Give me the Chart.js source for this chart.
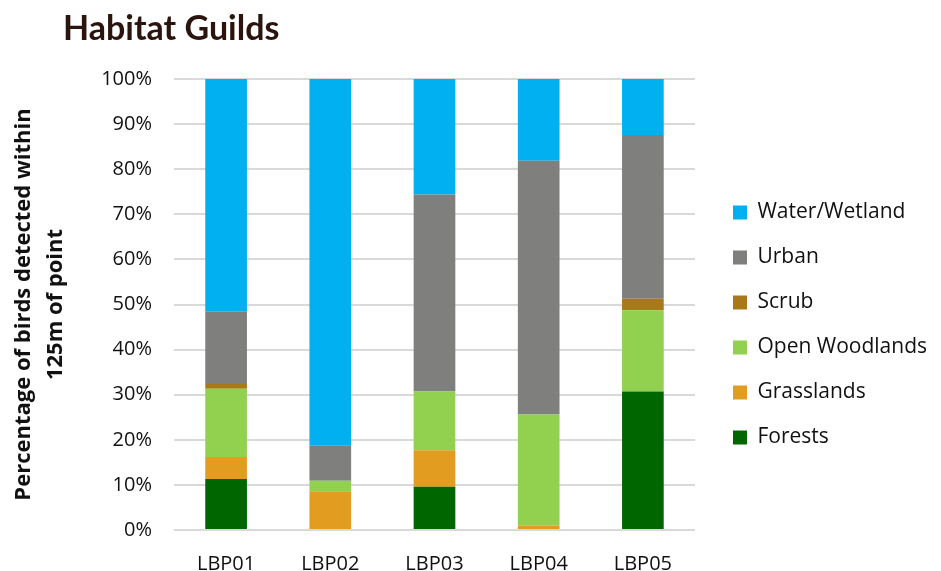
<!DOCTYPE html>
<html>
<head>
<meta charset="utf-8">
<script src="https://cdn.jsdelivr.net/npm/chart.js@4/dist/chart.umd.min.js"></script>
<style>
  html, body { margin: 0; padding: 0; background: #ffffff; }
  #wrap { position: relative; width: 941px; height: 571px; }
  #title { position: absolute; left: 63px; top: 7px; margin: 0; font: bold 34px/40px Lato, sans-serif; color: #2b140d; white-space: nowrap; }
  canvas { position: absolute; left: 0; top: 0; }
</style>
</head>
<body>
<div id="wrap">
  <canvas id="c" width="941" height="571"></canvas>
  <h1 id="title">Habitat Guilds</h1>
</div>
<script>
const categories = ['LBP01', 'LBP02', 'LBP03', 'LBP04', 'LBP05'];
const forests       = [11.3, 0,    9.6,  0,    30.7];
const grasslands    = [4.9,  8.6,  8.1,  1.0,  0];
const openWoodlands = [15.1, 2.3,  13.0, 24.6, 18.0];
const scrub         = [1.1,  0,    0,    0,    2.6];
const urban         = [16.1, 7.8,  43.7, 56.3, 36.3];
const waterWetland  = [51.5, 81.3, 25.6, 18.1, 12.4];
const yTitle = ['Percentage of birds detected within', '125m of point'];

const series = [
  { label: 'Forests', data: forests, color: '#006600' },
  { label: 'Grasslands', data: grasslands, color: '#e29d20' },
  { label: 'Open Woodlands', data: openWoodlands, color: '#92d050' },
  { label: 'Scrub', data: scrub, color: '#a97819' },
  { label: 'Urban', data: urban, color: '#7f807d' },
  { label: 'Water/Wetland', data: waterWetland, color: '#00b0f0' }
];

const chart = new Chart(document.getElementById('c'), {
  type: 'bar',
  data: {
    labels: categories,
    datasets: series.map(s => ({
      label: s.label,
      data: s.data,
      backgroundColor: s.color,
      borderWidth: 0,
      barPercentage: 0.4,
      categoryPercentage: 1.0
    }))
  },
  options: {
    responsive: false,
    animation: false,
    layout: { padding: { top: 79, right: 4, bottom: 0, left: 0 } },
    plugins: {
      title: { display: false },
      tooltip: { enabled: false },
      legend: {
        position: 'right',
        reverse: true,
        labels: {
          boxWidth: 14,
          boxHeight: 14,
          padding: 24,
          color: '#111111',
          font: { family: 'Open Sans', size: 21 }
        }
      }
    },
    scales: {
      x: {
        stacked: true,
        afterFit: (scale) => { scale.height = 41; },
        grid: { display: false, drawTicks: false },
        border: { display: false },
        ticks: { color: '#111111', padding: 22, font: { family: 'Open Sans', size: 20 } }
      },
      y: {
        stacked: true,
        min: 0,
        max: 100,
        afterFit: (scale) => { scale.width = 174; },
        grid: { color: '#d9d9d9', lineWidth: 2, drawTicks: false },
        border: { display: false },
        ticks: {
          stepSize: 10,
          padding: 22,
          color: '#111111',
          font: { family: 'Open Sans', size: 20 },
          callback: (v) => v + '%'
        },
        title: {
          display: true,
          text: yTitle,
          color: '#111111',
          padding: { top: 8, bottom: 0 },
          font: { family: 'Open Sans', size: 22, weight: 'bold', lineHeight: 1.45 }
        }
      }
    }
  }
});

// Widen the gap between the plot area and the legend.
const legendGap = 14;
const lg = chart.legend;
const origFit = lg.fit.bind(lg);
lg.fit = function () { origFit(); this.width += legendGap; };
const origDraw = lg.draw.bind(lg);
lg.draw = function (area) {
  this.left += legendGap; this.right += legendGap;
  origDraw(area);
  this.left -= legendGap; this.right -= legendGap;
};
chart.update();
</script>
</body>
</html>
